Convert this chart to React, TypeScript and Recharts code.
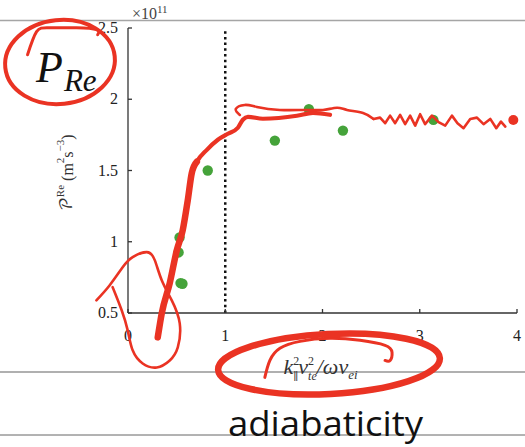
import React from "react";
import {
  ComposedChart,
  Line,
  ReferenceLine,
  Scatter,
  ScatterChart,
  XAxis,
  YAxis,
} from "recharts";

const W = 525;
const H = 447;

// measured points of the figure
const adiabaticity = [0.53, 0.52, 0.54, 0.56, 0.82, 1.51, 1.86, 2.21, 3.14];
const powerRe = [1.03, 0.925, 0.71, 0.705, 1.5, 1.71, 1.93, 1.78, 1.855];
const xTicks = [0, 1, 2, 3, 4];
const yTicks = [0.5, 1, 1.5, 2, 2.5];
const boundaryX = 1;

// red pen strokes drawn over the figure (data units)
const penRise: [number, number][] = [
  [0.306, 0.329], [0.347, 0.498], [0.429, 0.709], [0.502, 0.941],
  [0.563, 1.082], [0.615, 1.293], [0.656, 1.483], [0.708, 1.561],
];
const penShoulder: [number, number][] = [
  [0.656, 1.483], [0.708, 1.561], [0.811, 1.645], [0.924, 1.716],
  [1.027, 1.758], [1.13, 1.8], [1.181, 1.856], [1.233, 1.877],
  [1.387, 1.863], [1.737, 1.884], [1.902, 1.905], [2.077, 1.891],
];
const penWiggle: [number, number][] = [
  [1.15, 1.89], [1.109, 1.932], [1.201, 1.96], [1.325, 1.946],
  [1.562, 1.925], [1.84, 1.925], [2.005, 1.925], [2.149, 1.94],
  [2.252, 1.925], [2.417, 1.904], [2.525, 1.862],
];
const penScribble: [number, number][] = [
  [2.525, 1.862], [2.592, 1.871],
  [2.644, 1.832], [2.695, 1.885], [2.747, 1.832], [2.798, 1.89],
  [2.85, 1.825], [2.901, 1.885], [2.953, 1.815], [3.004, 1.895],
  [3.055, 1.825], [3.125, 1.885], [3.193, 1.839], [3.262, 1.815],
  [3.331, 1.885], [3.388, 1.832], [3.45, 1.797], [3.519, 1.862],
  [3.588, 1.871], [3.656, 1.825], [3.725, 1.862], [3.787, 1.797],
  [3.835, 1.843], [3.88, 1.808],
];
const penLoop: [number, number][] = [
  [-0.325, 0.589], [-0.188, 0.695], [-0.055, 0.821], [0.048, 0.892],
  [0.193, 0.927], [0.275, 0.871], [0.347, 0.73], [0.45, 0.589],
  [0.532, 0.427], [0.512, 0.259], [0.429, 0.167], [0.296, 0.118],
  [0.151, 0.146], [0.048, 0.238], [-0.003, 0.378], [-0.065, 0.519],
  [-0.137, 0.646], [-0.158, 0.681],
];
const penHook: [number, number][] = [
  [1.407, 0.048], [1.459, 0.167], [1.562, 0.252], [1.768, 0.301],
  [2.077, 0.322], [2.386, 0.308], [2.643, 0.273], [2.715, 0.224],
  [2.695, 0.167], [2.643, 0.167],
];
const penTail: [number, number][] = [
  [-1.033, 2.312], [-0.94, 2.474], [-0.806, 2.502], [-0.528, 2.502],
  [-0.322, 2.488], [-0.312, 2.453],
];
const penDot: [number, number][] = [[3.962, 1.855]];

const SERIF = "'Liberation Serif', 'Times New Roman', 'DejaVu Serif', serif";
const PEN = "#ea3323";
const DOT = "#45a33a";
const AXIS = "#333";
const serifText: React.CSSProperties = { fontFamily: SERIF };

// plot box in page pixels, used to line the pen layer up with the axes
const PLOT = { left: 128, right: 517, top: 28, bottom: 313 };
const pxPerX = (PLOT.right - PLOT.left) / 4;
const pxPerY = (PLOT.bottom - PLOT.top) / 2;
const penX: [number, number] = [-PLOT.left / pxPerX, 4 + (W - PLOT.right) / pxPerX];
const penY: [number, number] = [0.5 - (H - PLOT.bottom) / pxPerY, 2.5 + PLOT.top / pxPerY];

const points = adiabaticity.map((x, i) => ({ x, y: powerRe[i] }));
const toPts = (arr: [number, number][]) => arr.map(([x, y]) => ({ x, y }));

function XTick(props: any) {
  return (
    <text x={props.x} y={props.y} dy={11} textAnchor="middle" style={serifText} fontSize={16} fill="#222">
      {props.payload.value}
    </text>
  );
}

function YTick(props: any) {
  return (
    <text x={props.x} y={props.y} dy={5} textAnchor="end" style={serifText} fontSize={16} fill="#222">
      {props.payload.value}
    </text>
  );
}

function XLabel(props: any) {
  const vb = props.viewBox;
  const cx = vb.x + vb.width / 2 - 2;
  const y = vb.y + 61;
  return (
    <text x={cx} y={y} textAnchor="middle" style={serifText} fontStyle="italic" fontSize={22} fill="#333">
      k
      <tspan dy={-9} fontSize={12} fontStyle="normal">2</tspan>
      <tspan dx={-6} dy={15} fontSize={11} fontStyle="normal">∥</tspan>
      <tspan dy={-6}>v</tspan>
      <tspan dy={-9} fontSize={12} fontStyle="normal">2</tspan>
      <tspan dx={-6} dy={15} fontSize={12}>te</tspan>
      <tspan dy={-6}>/ων</tspan>
      <tspan dy={5} fontSize={13}>ei</tspan>
    </text>
  );
}

function YLabel(props: any) {
  const vb = props.viewBox;
  const cx = vb.x + vb.width - 61;
  const cy = vb.y + vb.height / 2 + 2;
  return (
    <g>
      <text
        x={cx}
        y={cy}
        transform={`rotate(-90 ${cx} ${cy})`}
        textAnchor="middle"
        dominantBaseline="central"
        style={serifText}
        fontSize={16}
        fill="#333"
      >
        <tspan style={{ fontFamily: "'DejaVu Math TeX Gyre', 'DejaVu Serif', serif" }}>𝒫</tspan>
        <tspan dy={-7} fontSize={11}>Re</tspan>
        <tspan dy={7}> (m</tspan>
        <tspan dy={-7} fontSize={11}>2</tspan>
        <tspan dy={7}>s</tspan>
        <tspan dy={-7} fontSize={11}>−3</tspan>
        <tspan dy={7}>)</tspan>
      </text>
      <text x={vb.x + vb.width + 4} y={19} style={serifText} fontSize={16} fill="#444">
        ×10
        <tspan dy={-6} fontSize={11}>11</tspan>
      </text>
    </g>
  );
}

const renderDot = (p: any) => <circle cx={p.cx} cy={p.cy} r={5.2} fill={DOT} />;
const renderPenDot = (p: any) => <circle cx={p.cx} cy={p.cy} r={5} fill={PEN} />;

export default function App() {
  const layer: React.CSSProperties = { position: "absolute", left: 0, top: 0 };
  return (
    <div style={{ position: "relative", width: W, height: H, background: "#fff", overflow: "hidden" }}>
      <style>{"body{margin:0}"}</style>

      {/* page rules of the scanned sheet */}
      <svg width={W} height={H} style={layer}>
        <line x1={0} x2={W} y1={20.5} y2={20.5} stroke="#a5a5a5" strokeWidth={1.5} />
        <line x1={0} x2={W} y1={372} y2={372} stroke="#b0b0b0" strokeWidth={2} />
        <line x1={0} x2={W} y1={435} y2={435} stroke="#666" strokeWidth={1} />
      </svg>

      <div style={layer}>
        <ScatterChart width={W} height={H} margin={{ top: PLOT.top, right: W - PLOT.right, bottom: 104, left: 68 }}>
          <XAxis
            type="number"
            dataKey="x"
            domain={[0, 4]}
            ticks={xTicks}
            interval={0}
            allowDataOverflow
            height={30}
            stroke={AXIS}
            strokeWidth={1.3}
            tickSize={-4}
            tickMargin={21}
            tick={XTick}
            label={XLabel}
          />
          <XAxis
            xAxisId="top"
            orientation="top"
            type="number"
            domain={[0, 4]}
            ticks={xTicks}
            interval={0}
            allowDataOverflow
            height={0}
            mirror
            tick={false}
            tickSize={4}
            stroke={AXIS}
            strokeWidth={1.3}
          />
          <YAxis
            type="number"
            dataKey="y"
            domain={[0.5, 2.5]}
            ticks={yTicks}
            interval={0}
            allowDataOverflow
            width={60}
            stroke={AXIS}
            strokeWidth={1.3}
            tickSize={-4}
            tickMargin={14}
            tick={YTick}
            label={YLabel}
          />
          <YAxis
            yAxisId="right"
            orientation="right"
            type="number"
            domain={[0.5, 2.5]}
            ticks={yTicks}
            interval={0}
            allowDataOverflow
            width={0}
            mirror
            tick={false}
            tickSize={4}
            stroke={AXIS}
            strokeWidth={1.3}
          />
          <ReferenceLine x={boundaryX} stroke="#111" strokeWidth={2.5} strokeDasharray="2.5 3.2" />
          <Scatter data={points} shape={renderDot} isAnimationActive={false} />
        </ScatterChart>
      </div>

      <svg width={W} height={H} style={layer}>
        <text x={36} y={82} style={serifText} fontStyle="italic" fontSize={44} fill="#111">
          P
          <tspan dx={1} dy={9} fontSize={31}>Re</tspan>
        </text>
        <text
          x={228}
          y={436}
          style={{ fontFamily: "'Open Sans', 'Noto Sans', sans-serif" }}
          fontSize={34}
          fill="#111"
          textLength={195}
          lengthAdjust="spacingAndGlyphs"
        >
          adiabaticity
        </text>
      </svg>

      <div style={layer}>
        <ComposedChart width={W} height={H} margin={{ top: 0, right: 0, bottom: 0, left: 0 }}>
          <XAxis type="number" dataKey="x" hide domain={penX} allowDataOverflow />
          <YAxis type="number" dataKey="y" hide domain={penY} allowDataOverflow />
          <Line data={toPts(penRise)} dataKey="y" type="monotone" stroke={PEN} strokeWidth={6.5} strokeLinecap="round" dot={false} isAnimationActive={false} />
          <Line data={toPts(penShoulder)} dataKey="y" type="monotone" stroke={PEN} strokeWidth={4.2} strokeLinecap="round" dot={false} isAnimationActive={false} />
          <Line data={toPts(penWiggle)} dataKey="y" type="natural" stroke={PEN} strokeWidth={2.6} strokeLinecap="round" dot={false} isAnimationActive={false} />
          <Line data={toPts(penScribble)} dataKey="y" type="linear" stroke={PEN} strokeWidth={2.6} strokeLinecap="round" strokeLinejoin="round" dot={false} isAnimationActive={false} />
          <Line data={toPts(penLoop)} dataKey="y" type="natural" stroke={PEN} strokeWidth={2.6} strokeLinecap="round" dot={false} isAnimationActive={false} />
          <Line data={toPts(penHook)} dataKey="y" type="natural" stroke={PEN} strokeWidth={3} strokeLinecap="round" dot={false} isAnimationActive={false} />
          <Line data={toPts(penTail)} dataKey="y" type="natural" stroke={PEN} strokeWidth={3} strokeLinecap="round" dot={false} isAnimationActive={false} />
          <Scatter data={toPts(penDot)} shape={renderPenDot} isAnimationActive={false} />
        </ComposedChart>
      </div>

      {/* pen circles around the symbol and the axis label */}
      <svg width={W} height={H} style={layer}>
        <ellipse cx={60} cy={62} rx={55} ry={42} fill="none" stroke={PEN} strokeWidth={4} transform="rotate(-6 60 62)" />
        <ellipse cx={329} cy={364} rx={111} ry={30} fill="none" stroke={PEN} strokeWidth={6.5} transform="rotate(-3 329 364)" />
      </svg>
    </div>
  );
}
